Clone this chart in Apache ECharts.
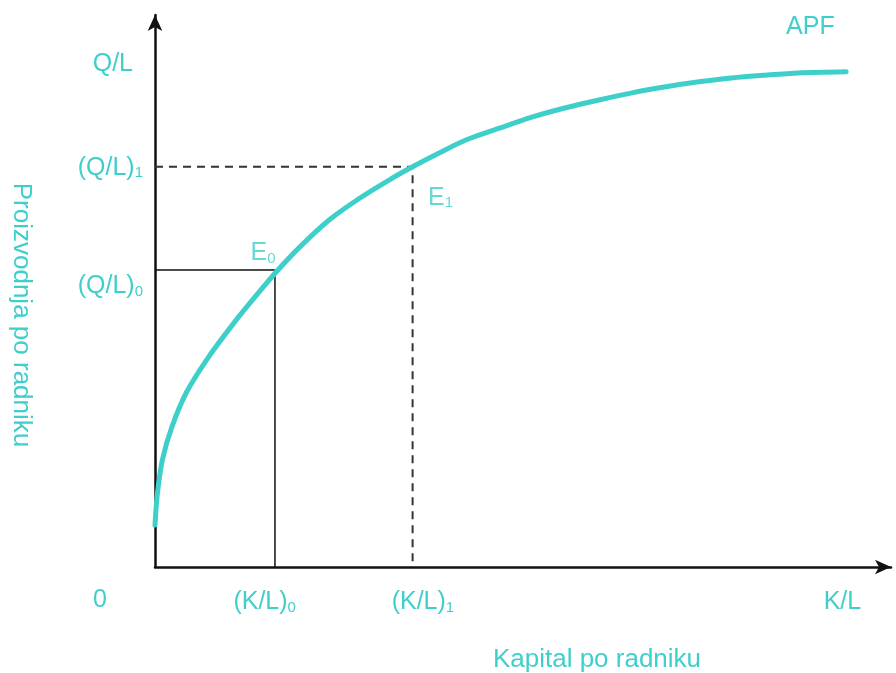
<!DOCTYPE html>
<html>
<head>
<meta charset="utf-8">
<script src="https://cdn.jsdelivr.net/npm/echarts@6/dist/echarts.min.js"></script>
<style>html,body{margin:0;padding:0;background:#fff}#c{width:896px;height:673px}</style>
</head>
<body>
<div id="c"></div>
<script>
// APF curve (capital per worker vs output per worker), arbitrary units 0-100
const apfX = [0, 0.3, 1.0, 2.3, 4.3, 7.2, 10.6, 13.7, 16.7, 19.7, 23.7, 27.8, 31.8, 35.0, 38.6, 42.3, 46.8, 51.2, 55.8, 60.3, 64.8, 69.4, 73.9, 78.3, 82.9, 87.4, 93.9];
const apfY = [7.6, 13.0, 19.4, 25.4, 31.7, 37.9, 44.0, 49.1, 53.8, 58.0, 62.9, 66.8, 70.1, 72.5, 75.0, 77.4, 79.5, 81.5, 83.2, 84.6, 85.9, 87.0, 87.9, 88.6, 89.1, 89.5, 89.7];
// equilibrium points E0, E1
const eqNames = ['E0', 'E1'];
const eqX = [16.3, 35.0];
const eqY = [53.8, 72.5];
// tick label positions
const xTickVals = [14.9, 36.4, 93.4];
const xTickText = ['(K/L)|0', '(K/L)|1', 'K/L|'];
const yTickVals = [51.1, 72.6, 91.3];
const yTickText = ['(Q/L)|0', '(Q/L)|1', 'Q/L|'];

const TEAL = '#3fcfcb';
const FONT = 'Liberation Sans, Arial, sans-serif';

function sub(str) {
  const p = str.split('|');
  if (!p[1]) return '{m|' + p[0] + '}';
  return '{m|' + p[0] + '}{s|' + p[1] + '}';
}
const richTxt = {
  m: { fontSize: 25, color: TEAL, fontFamily: FONT, verticalAlign: 'bottom', lineHeight: 28 },
  s: { fontSize: 15, color: TEAL, fontFamily: FONT, verticalAlign: 'bottom', lineHeight: 24 }
};

const chart = echarts.init(document.getElementById('c'));
chart.setOption({
  animation: false,
  backgroundColor: '#fff',
  grid: { left: 155, right: 5, top: 15, bottom: 106 },
  xAxis: {
    type: 'value', min: 0, max: 100,
    splitLine: { show: false },
    axisLine: { show: true, onZero: false, lineStyle: { color: '#111', width: 2.5 }, symbol: ['none', 'arrow'], symbolSize: [11, 16] },
    axisTick: { show: false },
    axisLabel: {
      margin: 20,
      customValues: xTickVals,
      formatter: v => sub(xTickText[xTickVals.indexOf(v)] || ''),
      rich: richTxt
    }
  },
  yAxis: {
    type: 'value', min: 0, max: 100,
    splitLine: { show: false },
    axisLine: { show: true, onZero: false, lineStyle: { color: '#111', width: 2.5 }, symbol: ['none', 'arrow'], symbolSize: [11, 16] },
    axisTick: { show: false },
    axisLabel: {
      margin: 12,
      customValues: yTickVals,
      formatter: v => {
        const t = yTickText[yTickVals.indexOf(v)] || '';
        return t === 'Q/L|' ? '{m|Q/L}{pad|}' : sub(t);
      },
      rich: Object.assign({ pad: { width: 10 } }, richTxt)
    }
  },
  graphic: [
    { type: 'text', x: 100, y: 600, style: { text: '0', fill: TEAL, font: '25px ' + FONT, align: 'center', verticalAlign: 'middle' } },
    { type: 'text', x: 597, y: 660, style: { text: 'Kapital po radniku', fill: TEAL, font: '26px ' + FONT, align: 'center', verticalAlign: 'middle' } },
    { type: 'text', x: 21, y: 315, rotation: -Math.PI / 2, style: { text: 'Proizvodnja po radniku', fill: TEAL, font: '26px ' + FONT, align: 'center', verticalAlign: 'middle' } }
  ],
  series: [
    {
      type: 'line', z: 2, symbol: 'none', silent: true,
      lineStyle: { color: '#111', width: 1.5 },
      data: [[0, eqY[0]], [eqX[0], eqY[0]], [eqX[0], 0]]
    },
    {
      type: 'line', z: 2, symbol: 'none', silent: true,
      lineStyle: { color: '#333', width: 2, type: [8, 6] },
      data: [[0, eqY[1]], [eqX[1], eqY[1]], [eqX[1], 0]]
    },
    {
      type: 'line', z: 3, symbol: 'none', smooth: 0.3,
      lineStyle: { color: TEAL, width: 5, cap: 'round' },
      data: apfX.map((x, i) => [x, apfY[i]]),
      endLabel: {
        show: true, formatter: 'APF', color: TEAL, fontSize: 25, fontFamily: FONT,
        offset: [-68, -45]
      }
    },
    {
      type: 'scatter', z: 4, symbolSize: 0, silent: true,
      data: eqX.map((x, i) => ({ value: [x, eqY[i]], name: eqNames[i] })),
      label: {
        show: true,
        formatter: p => '{m|E}{s|' + p.name.slice(1) + '}',
        rich: richTxt,
        position: 'inside',
        offset: [0, 0]
      },
      labelLayout: function (params) {
        const i = params.dataIndex;
        const offs = [[-12, -18], [28, 30]];
        return { dx: offs[i][0], dy: offs[i][1] };
      }
    }
  ]
});
</script>
</body>
</html>
